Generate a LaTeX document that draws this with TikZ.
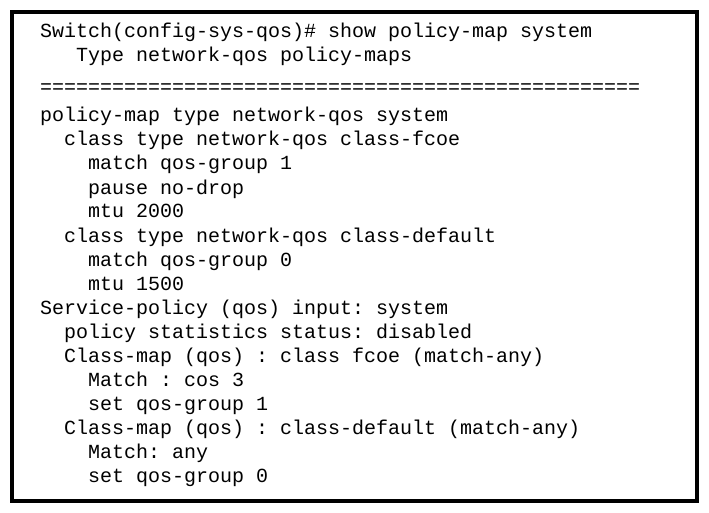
\documentclass[tikz,border=0pt]{standalone}
\usepackage{fontspec}
\setmonofont{Liberation Mono}
\tikzset{
  term/.style={anchor=west, inner sep=0pt, text height=14pt, text depth=4pt,
    font=\ttfamily\fontsize{20}{20}\selectfont},
  frame/.style={draw=black, line width=4pt}
}
\begin{document}
\begin{tikzpicture}[x=1pt, y=1pt]
  \useasboundingbox (0,0) rectangle (709,-513);
  \draw[frame] (12,-12) rectangle (697,-501);
  \node[term] (l1) at (40,-33) {Switch(config-sys-qos)\# show policy-map system};
  \node[term] (l2) at (40,-57) {\ \ \ Type network-qos policy-maps};
  \node[term] (l3) at (40,-89) {==================================================};
  \node[term] (l4) at (40,-117) {policy-map type network-qos system};
  \node[term] (l5) at (40,-141) {\ \ class type network-qos class-fcoe};
  \node[term] (l6) at (40,-165) {\ \ \ \ match qos-group 1};
  \node[term] (l7) at (40,-189) {\ \ \ \ pause no-drop};
  \node[term] (l8) at (40,-213) {\ \ \ \ mtu 2000};
  \node[term] (l9) at (40,-237) {\ \ class type network-qos class-default};
  \node[term] (l10) at (40,-261) {\ \ \ \ match qos-group 0};
  \node[term] (l11) at (40,-285) {\ \ \ \ mtu 1500};
  \node[term] (l12) at (40,-309) {Service-policy (qos) input: system};
  \node[term] (l13) at (40,-333) {\ \ policy statistics status: disabled};
  \node[term] (l14) at (40,-357) {\ \ Class-map (qos) : class fcoe (match-any)};
  \node[term] (l15) at (40,-381) {\ \ \ \ Match : cos 3};
  \node[term] (l16) at (40,-405) {\ \ \ \ set qos-group 1};
  \node[term] (l17) at (40,-429) {\ \ Class-map (qos) : class-default (match-any)};
  \node[term] (l18) at (40,-453) {\ \ \ \ Match: any};
  \node[term] (l19) at (40,-477) {\ \ \ \ set qos-group 0};
\end{tikzpicture}
\end{document}
